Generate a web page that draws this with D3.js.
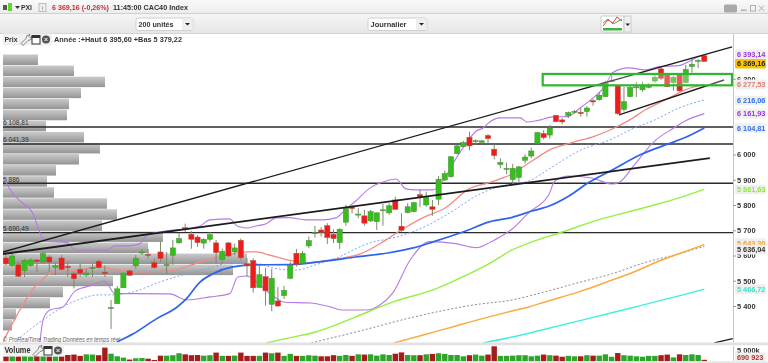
<!DOCTYPE html>
<html><head><meta charset="utf-8">
<script src="https://cdn.jsdelivr.net/npm/d3@7"></script>
<style>
html,body{margin:0;padding:0;background:#fff;overflow:hidden}
svg{display:block;filter:blur(0.4px)}
text{font-family:"Liberation Sans",Arial,sans-serif}
</style></head><body><svg id="c" width="768" height="363"></svg>
<script>
const candleOpen=[5590,5561,5564,5541,5561,5582,5574,5594,5553,5590,5557,5528,5545,5523,5551,5577,5534,5392,5409,5472,5539,5559,5612,5604,5572,5614,5562,5601,5650,5710,5684,5673,5649,5664,5650,5585,5650,5614,5660,5567,5580,5473,5516,5407,5420,5441,5510,5609,5569,5638,5689,5701,5718,5684,5651,5732,5793,5762,5757,5737,5734,5779,5769,5820,5716,5770,5774,5841,5800,5793,5823,5899,5912,6003,6031,6068,6053,6048,6075,6021,5960,5943,5901,5909,5977,5994,6044,6083,6077,6155,6137,6154,6169,6167,6170,6213,6217,6229,6290,6273,6179,6229,6266,6256,6268,6291,6339,6315,6285,6316,6285,6348,6371,6391];
const candleClose=[5567,5598,5518,5581,5582,5576,5607,5574,5560,5545,5552,5508,5530,5530,5553,5552,5528,5394,5468,5528,5522,5589,5614,5602,5552,5588,5564,5630,5667,5708,5664,5651,5664,5683,5611,5617,5598,5630,5591,5559,5472,5524,5460,5510,5400,5462,5561,5565,5609,5659,5691,5692,5671,5667,5704,5787,5786,5764,5728,5774,5769,5781,5797,5783,5700,5793,5809,5832,5830,5783,5902,5924,5991,6034,6047,6034,6055,6054,6063,5996,5969,5945,5945,5951,5990,6014,6087,6067,6105,6130,6129,6166,6171,6162,6184,6208,6235,6285,6292,6162,6209,6266,6268,6271,6270,6306,6302,6269,6306,6252,6337,6357,6373,6369];
const candleHigh=[5601,5611,5577,5588,5590,5585,5617,5601,5574,5601,5577,5538,5568,5548,5568,5585,5561,5424,5479,5532,5543,5602,5626,5626,5588,5654,5614,5662,5689,5726,5697,5681,5669,5693,5662,5627,5654,5647,5667,5589,5589,5559,5551,5547,5475,5479,5576,5626,5618,5675,5717,5712,5728,5704,5708,5801,5800,5787,5780,5780,5770,5804,5807,5833,5767,5807,5813,5860,5853,5820,5915,5936,5994,6038,6054,6090,6060,6058,6081,6043,5985,5968,5963,5955,6001,6027,6090,6096,6117,6157,6144,6170,6176,6183,6192,6219,6246,6292,6319,6275,6267,6271,6288,6288,6282,6315,6348,6315,6312,6319,6355,6381,6378,6395.6];
const candleLow=[5561,5555,5515,5515,5555,5535,5568,5535,5522,5541,5515,5469,5515,5515,5515,5548,5515,5309,5408,5472,5519,5548,5602,5588,5548,5574,5527,5563,5647,5693,5627,5634,5627,5654,5568,5568,5594,5601,5581,5516,5453,5472,5401,5379.22,5397,5428,5506,5556,5563,5629,5671,5675,5646,5649,5626,5718,5767,5748,5718,5733,5701,5718,5761,5780,5694,5767,5770,5792,5793,5757,5799,5895,5908,6001,6030,6017,6041,6041,6041,5981,5945,5922,5879,5889,5964,5985,6042,6060,6063,6128,6120,6144,6163,6150,6150,6193,6213,6229,6288,6158,6170,6227,6227,6249,6262,6285,6295,6266,6253,6249,6282,6324,6343,6368];
const volumeM=[2.3,2.6,2.3,2.5,2.3,2.5,2.5,2.3,2.3,2.3,2.9,3.1,2.5,3.2,3.1,2.8,6.3,3.5,2.3,1.7,0.8,1.4,1.5,1.2,0.6,2.6,2.6,2.8,3.7,3.2,2.8,2.9,2.6,2.8,4.0,2.5,2.5,2.6,4.0,2.5,2.5,2.5,4.0,3.7,4.0,2.5,3.4,2.5,2.5,2.8,2.6,2.3,2.3,2.8,2.5,2.9,2.5,3.2,3.1,3.2,2.6,3.2,2.9,3.5,4.1,2.9,2.8,2.8,3.2,3.4,3.7,3.4,2.9,2.9,2.3,2.8,3.1,2.6,3.1,6.9,2.5,2.5,2.6,2.8,2.8,2.3,2.6,3.1,2.8,2.6,2.1,2.5,2.3,2.3,2.8,2.6,2.6,3.2,2.1,3.8,2.8,2.6,2.3,2.1,2.5,2.5,2.8,3.1,1.8,3.2,2.9,3.2,2.9,0.69];
const profileStartPrice=6396, profileBinPrice=43.8;
const profileEnd=[38,74,105,81,69,67,46,84,100,79,56,47,54,107,117,102,163,148,247,233,113,63,50,16,12];
const hLevels=[6108.81,6041.39,5886,5690.49];
const hLevelLabels=["6 108,81","6 041,39","5 886","5 690,49"];
const zoneHigh=6319, zoneLow=6274;
const trendA=[[-0.5,5614],[117.5,6426]];
const trendB=[[-0.5,5606],[113.9,5986]];
const trendC=[[99.2,6157],[116.2,6295]];
const trendD=[[114.6,5254],[117.6,5271]];
const bollUpper=[[-0.2,5899],[1,5849],[2.3,5816],[4.4,5765],[5.2,5709],[6,5666],[6.8,5656],[9.9,5651],[11.2,5622],[16.3,5622],[17.6,5638],[19.6,5638],[21.7,5647],[22.8,5681],[24.9,5693],[27,5701],[29.3,5705],[31.4,5717],[33,5741],[36.2,5745],[37.4,5717],[39,5709],[40.5,5717],[42.1,5726],[43.7,5749],[45.8,5750],[48.5,5741],[51.1,5741],[53.4,5749],[55,5784],[56.6,5816],[58.7,5864],[61.5,5895],[63.1,5903],[64.7,5864],[66.3,5860],[69.1,5860],[70.7,5895],[72.3,5963],[74.4,6042],[76.1,6093],[77.2,6105],[78.3,6129],[79.9,6145],[83.2,6145],[84.3,6129],[85.9,6134],[88.5,6149],[90.8,6150],[92.9,6184],[95,6224],[96.4,6256],[97.7,6307],[98.1,6324],[100.8,6343],[103.4,6335],[105.7,6348],[108.9,6352],[110.5,6368],[112.1,6387],[113,6393.14]];
const bollLower=[[5.5,5258],[6,5345],[7.1,5384],[9.2,5396],[11.2,5460],[14.1,5483],[16,5499],[17.6,5449],[20.1,5449],[26.5,5448],[29.3,5424],[33,5436],[36.2,5449],[37.5,5515],[39,5519],[41.1,5483],[43,5444],[45.1,5415],[49.2,5412],[52.4,5397],[54.5,5384],[58.4,5384],[60.5,5404],[62.6,5452],[65.4,5582],[68.6,5655],[72.8,5647],[76.1,5631],[78.2,5650],[79.9,5673],[81.9,5705],[84.6,5770],[87.9,5844],[88.8,5895],[91.1,5915],[94.8,5907],[98.1,5883],[99.2,5889],[101.8,5963],[105,6054],[107.8,6101],[109.9,6133],[113,6161.93]];
const ma20=[[-0.5,5258],[1.8,5365],[4.4,5469],[6,5507],[7.6,5535],[10.8,5539],[15.2,5555],[18,5543],[21.7,5535],[26.5,5539],[31.4,5574],[36.7,5607],[39.2,5614],[40.5,5614],[42.6,5602],[45.3,5584],[49,5572],[52.3,5582],[57.8,5611],[61,5654],[64.2,5705],[67.5,5750],[71.2,5790],[74.9,5864],[78.2,5889],[81.9,5923],[85.1,5974],[88.3,6022],[91.6,6047],[95.3,6073],[98.1,6101],[100.8,6135],[103.4,6176],[107.3,6224],[109.9,6256],[113,6277.53]];
const emaDotted=[[1.8,5267],[6,5345],[10.8,5416],[15.2,5444],[17.3,5444],[20.6,5456],[24.9,5495],[29.3,5528],[33.5,5555],[36.7,5572],[39,5568],[40.5,5568],[43.7,5548],[46.9,5542],[50.2,5564],[53.9,5594],[56.6,5627],[59.4,5654],[62,5666],[68,5717],[72.8,5784],[76.1,5836],[79.3,5869],[81.9,5883],[84.6,5895],[87.9,5943],[92.7,6014],[98.1,6062],[101.3,6101],[105,6137],[108.9,6184],[113,6216.06]];
const ma50=[[18,5258],[20.6,5290],[24.4,5350],[27.7,5396],[29,5424],[31.4,5495],[33.5,5528],[36.7,5555],[40.5,5563],[45.8,5564],[51.3,5577],[56.6,5594],[62,5611],[65.9,5630],[69.1,5654],[74.4,5697],[78.2,5733],[81.9,5751],[85.1,5776],[87.9,5796],[91.1,5836],[94.3,5889],[98.1,5939],[102.9,6002],[107.3,6043],[109.9,6067],[113,6104.81]];
const ma100=[[42.1,5254],[45.8,5274],[49.8,5295],[53.4,5325],[56.6,5357],[63.1,5420],[69.1,5464],[72.8,5503],[78.2,5568],[81.9,5622],[85.1,5654],[90,5693],[95.3,5737],[103.4,5790],[108.9,5828],[113,5861.63]];
const maGrayDotted=[[49.4,5254],[56.6,5297],[67.5,5365],[75.6,5404],[81.9,5424],[87.2,5456],[92.7,5493],[98.1,5528],[103.4,5572],[108.9,5607],[113,5636.04]];
const ma200=[[62.8,5254],[67.5,5285],[72.8,5321],[78.2,5357],[81.9,5380],[84.6,5396],[87.2,5416],[92.7,5456],[98.1,5503],[100.8,5527],[106.1,5582],[108.9,5607],[113,5643.30]];
const ma300=[[77.2,5254],[81.9,5277],[86.7,5305],[92.7,5341],[100.8,5390],[108.9,5440],[113,5466.72]];
const priceTicks=[6300,6000,5900,5800,5700,5600,5500,5400];
const tagPrices=[6393.14,6369.16,6277.53,6216.06,6161.93,6104.81,5861.63,5643.30,5636.04,5466.72];
const tagLabels=["6 393,14","6 369,16","6 277,53","6 216,06","6 161,93","6 104,81","5 861,63","5 643,30","5 636,04","5 466,72"];
const tagColors=["#a030e0","#222","#e07a70","#2f6ff0","#a030e0","#2f6ff0","#8fe83a","#f5a030","#333","#30e8cc"];
const tagShift=[-1,2.4,0,0.5,0,0,0,-1.6,3.2,0];

const svg=d3.select("#c");
const defs=svg.append("defs");
const L=3,R=733,T=34,B=343;
const x=d3.scaleLinear().domain([0,113]).range([6,704.3]);
const y=d3.scaleLinear().domain([5400,6000]).range([306,154.5]);
const fmtTick=d=>d3.format(",")(d).replace(","," ");

function grad(id,stops){const g=defs.append("linearGradient").attr("id",id).attr("x1",0).attr("y1",0).attr("x2",0).attr("y2",1);
  stops.forEach(s=>g.append("stop").attr("offset",s[0]).attr("stop-color",s[1]));}
grad("gTop",[[0,"#fafafa"],[1,"#ececec"]]);
grad("gBar",[[0,"#f6f6f6"],[1,"#e6e6e6"]]);
grad("gProf",[[0,"#c9c9c9"],[.5,"#b0b0b0"],[1,"#939393"]]);
defs.append("clipPath").attr("id","plot").append("rect").attr("x",L).attr("y",T).attr("width",R-L).attr("height",B-T);

// window chrome
svg.append("rect").attr("width",768).attr("height",13).attr("fill","url(#gTop)");
svg.append("rect").attr("y",13).attr("width",768).attr("height",20).attr("fill","url(#gBar)");
svg.append("line").attr("x1",0).attr("x2",768).attr("y1",13.5).attr("y2",13.5).attr("stroke","#cfcfcf");
svg.append("rect").attr("y",33).attr("width",768).attr("height",1).attr("fill","#d4d4d4");
svg.append("rect").attr("x",L).attr("y",T).attr("width",R-L).attr("height",B-T).attr("fill","#fff");
svg.append("rect").attr("x",R).attr("y",T).attr("width",35).attr("height",329).attr("fill","#fff");

// volume profile
const prof=svg.append("g").attr("clip-path","url(#plot)");
prof.selectAll("rect").data(profileEnd).join("rect")
 .attr("x",L).attr("y",(d,i)=>y(profileStartPrice-i*profileBinPrice))
 .attr("width",d=>d-L).attr("height",y(5400)-y(5400+profileBinPrice)-0.6)
 .attr("fill","url(#gProf)");

const plot=svg.append("g").attr("clip-path","url(#plot)");
const lg=d3.line().x(d=>x(d[0])).y(d=>y(d[1]));
const lgs=d3.line().x(d=>x(d[0])).y(d=>y(d[1])).curve(d3.curveMonotoneX);
plot.selectAll(".h").data(hLevels).join("line").attr("x1",L).attr("x2",R)
 .attr("y1",d=>y(d)).attr("y2",d=>y(d)).attr("stroke","#2a2a2a").attr("stroke-width",1.4);
plot.selectAll(".hl").data(hLevelLabels).join("text").attr("x",3).attr("y",(d,i)=>y(hLevels[i])-1.6)
 .attr("font-size",6.6).attr("fill","#333").text(d=>d);
function path(data,color,w,dash){plot.append("path").datum(data).attr("d",lgs).attr("fill","none")
 .attr("stroke",color).attr("stroke-width",w).attr("stroke-dasharray",dash||null);}
path(bollUpper,"#b779e6",1.1);
path(bollLower,"#b779e6",1.1);
path(ma20,"#ee8d85",1.3);
path(emaDotted,"#7ba6f5",1,"2 2");
path(ma50,"#2f63ee",1.7);
path(ma100,"#95ef40",1.4);
path(maGrayDotted,"#8a8a8a",1,"2 2");
path(ma200,"#f9ab42",1.5);
path(ma300,"#3df2d8",1.4);
const idx=d3.range(candleOpen.length);
plot.selectAll(".w").data(idx).join("line").attr("x1",i=>x(i)).attr("x2",i=>x(i))
 .attr("y1",i=>y(candleHigh[i])).attr("y2",i=>y(candleLow[i])).attr("stroke","#7d8a68").attr("stroke-width",1);
plot.selectAll(".b").data(idx).join("rect").attr("x",i=>x(i)-2.6).attr("width",5.2)
 .attr("y",i=>y(Math.max(candleOpen[i],candleClose[i])))
 .attr("height",i=>Math.max(1,Math.abs(y(candleOpen[i])-y(candleClose[i]))))
 .attr("fill",i=>candleClose[i]>=candleOpen[i]?"#35bf1d":"#f01c1c")
 .attr("stroke",i=>candleClose[i]>=candleOpen[i]?"#4d8c3a":"#a85a4a").attr("stroke-width",.5);
[trendA,trendB,trendC,trendD].forEach((t,k)=>{plot.append("path").datum(t).attr("d",lg)
 .attr("stroke","#1c1c1c").attr("fill","none").attr("stroke-width",k==1?1.8:1.4);});
plot.append("rect").attr("x",x(86.85)).attr("y",y(zoneHigh)).attr("width",R-x(86.85)-1).attr("height",y(zoneLow)-y(zoneHigh))
 .attr("fill","#fff").attr("fill-opacity",.25).attr("stroke","#2fb52f").attr("stroke-width",2.2);
plot.append("text").attr("x",3).attr("y",342).attr("font-size",7).attr("font-style","italic").attr("fill","#666")
 .attr("textLength",117).attr("lengthAdjust","spacingAndGlyphs").text("© ProRealTime Trading  Données en temps réel");

// right axis
svg.append("line").attr("x1",R+.5).attr("x2",R+.5).attr("y1",T).attr("y2",B).attr("stroke","#c4c4c4");
const axis=d3.axisRight(y).tickValues(priceTicks).tickFormat(fmtTick).tickSize(3).tickPadding(1);
const ag=svg.append("g").attr("transform",`translate(${R},0)`).call(axis);
ag.select(".domain").remove();
ag.selectAll(".tick line").attr("stroke","#999");
ag.selectAll(".tick text").attr("font-size",7.4).attr("font-weight","bold").attr("fill","#333").style("font-family",'"Liberation Sans",sans-serif');
const tg=svg.append("g").selectAll("g").data(tagPrices).join("g").attr("transform",(d,i)=>`translate(735,${y(d)+tagShift[i]})`);
tg.append("rect").attr("y",-4.8).attr("width",31).attr("height",9.6).attr("rx",1)
 .attr("fill",(d,i)=>i==1?"#f6c400":"#efefef");
tg.append("text").attr("x",2).attr("y",2.7).attr("font-size",7.3).attr("font-weight","bold").attr("fill",(d,i)=>tagColors[i]).text((d,i)=>tagLabels[i]);

// volume panel
svg.append("rect").attr("y",342.5).attr("width",768).attr("height",2.8).attr("fill","#e2e2e2");
const vy=d3.scaleLinear().domain([0,6.9]).range([361.3,346.3]);
svg.append("g").selectAll("rect").data(idx).join("rect").attr("x",i=>x(i)-2.7).attr("width",5.4)
 .attr("y",i=>vy(volumeM[i])).attr("height",i=>vy(0)-vy(volumeM[i]))
 .attr("fill",i=>candleClose[i]>=candleOpen[i]?"#2ea52a":"#a51c1c");
svg.append("rect").attr("y",361.3).attr("width",768).attr("height",1.7).attr("fill","#e6e6e6");
svg.append("line").attr("x1",R+.5).attr("x2",R+.5).attr("y1",346).attr("y2",361).attr("stroke","#c4c4c4");
svg.append("text").attr("x",737).attr("y",353).attr("font-size",7.4).attr("font-weight","bold").attr("fill","#333").text("5 000k");
svg.append("rect").attr("x",735).attr("y",352.5).attr("width",31).attr("height",9).attr("fill","#efefef");
svg.append("text").attr("x",737).attr("y",360).attr("font-size",7.3).attr("font-weight","bold").attr("fill","#b03030").text("690 923");

// header
function label(tx,ty,s,size,color,weight,w){const t=svg.append("text").attr("x",tx).attr("y",ty).attr("font-size",size).attr("fill",color).attr("font-weight",weight||"normal").text(s);
 if(w)t.attr("textLength",w).attr("lengthAdjust","spacingAndGlyphs");return t;}
svg.append("rect").attr("x",3).attr("y",5).attr("width",4).attr("height",5).attr("fill","#555");
svg.append("rect").attr("x",8).attr("y",3).attr("width",4).attr("height",8).attr("fill","#5fd82a");
svg.append("path").attr("d","M15 6h5l-2.5 3z").attr("fill","#333");
label(21,9.7,"PXI",8,"#333","bold",11);
svg.append("rect").attr("x",39).attr("y",3.5).attr("width",7).attr("height",8).attr("fill","#eee").attr("stroke","#bbb");
label(42,10,"i",6,"#777");
label(52,9.7,"6 369,16 (-0,26%)",8,"#c03030","bold",57);
label(113,9.7,"11:45:00 CAC40 Index",8,"#333","bold",75);
svg.append("rect").attr("x",724).attr("y",4.5).attr("width",13).attr("height",8).attr("rx",1.5).attr("fill","#a8a8a8");
svg.append("rect").attr("x",741).attr("y",9.5).attr("width",5.5).attr("height",1.5).attr("fill","#b0b0b0");
svg.append("rect").attr("x",750.5).attr("y",5.5).attr("width",5).attr("height",5.5).attr("fill","none").attr("stroke","#b0b0b0");
svg.append("path").attr("d","M759 5.5l5 5.5M764 5.5l-5 5.5").attr("stroke","#b0b0b0").attr("fill","none");
function select(sx,w,s,tw){svg.append("rect").attr("x",sx).attr("y",18).attr("width",w).attr("height",12.5).attr("rx",2).attr("fill","#fff").attr("stroke","#d0d0d0");
 svg.append("rect").attr("x",sx+w-11).attr("y",18.5).attr("width",10.5).attr("height",11.5).attr("fill","#eee");
 svg.append("path").attr("d",`M${sx+w-8} 23h5l-2.5 2.6z`).attr("fill","#222");
 label(sx+2.5,26.7,s,8,"#333","bold",tw);}
select(136,57,"200 unités",35);
select(368,59,"Journalier",36);
svg.append("rect").attr("x",601).attr("y",16).attr("width",23).attr("height",16).attr("rx",1).attr("fill","#fff").attr("stroke","#ccc");
svg.append("path").attr("d","M603 26l5-6 5 3 4-6 5 4").attr("stroke","#e04040").attr("fill","none");
svg.append("path").attr("d","M603 23l5-4 5 5 4-2 5-3").attr("stroke","#40b040").attr("fill","none");
svg.append("rect").attr("x",603).attr("y",28).attr("width",19).attr("height",2.5).attr("fill","#40b040");
svg.append("rect").attr("x",624).attr("y",16).attr("width",7).attr("height",16).attr("fill","#efefef").attr("stroke","#ccc");
svg.append("path").attr("d","M625.5 23.5h4.5l-2.2 2.6z").attr("fill","#222");
function panel(py,w,s,size,tw){svg.append("rect").attr("x",3).attr("y",py).attr("width",w).attr("height",12).attr("fill","#f1f1f1");
 const ix=3+w-31;
 label(4.5,py+8.5,s,size,"#333","bold",tw);
 svg.append("path").attr("d",`M${ix} ${py+10}l5-5 1-3 3-1-1 2 1 1 2-1-1 3-3 1-5 5z`).attr("fill","none").attr("stroke","#555").attr("stroke-width",.7);
 svg.append("rect").attr("x",ix+11).attr("y",py+2).attr("width",8).attr("height",8.5).attr("fill","#fff").attr("stroke","#333");
 svg.append("rect").attr("x",ix+11).attr("y",py+2).attr("width",8).attr("height",2.5).attr("fill","#333");
 svg.append("circle").attr("cx",ix+25).attr("cy",py+6).attr("r",4).attr("fill","#555");
 svg.append("path").attr("d",`M${ix+23.5} ${py+4.5}l3 3m0-3l-3 3`).attr("stroke","#fff");}
panel(33.5,49,"Prix",8,13);
label(54,41.7,"Année :+Haut 6 395,60 +Bas 5 379,22",7.5,"#333","bold",128);
panel(344.5,61,"Volume",8.5,26);
</script></body></html>
